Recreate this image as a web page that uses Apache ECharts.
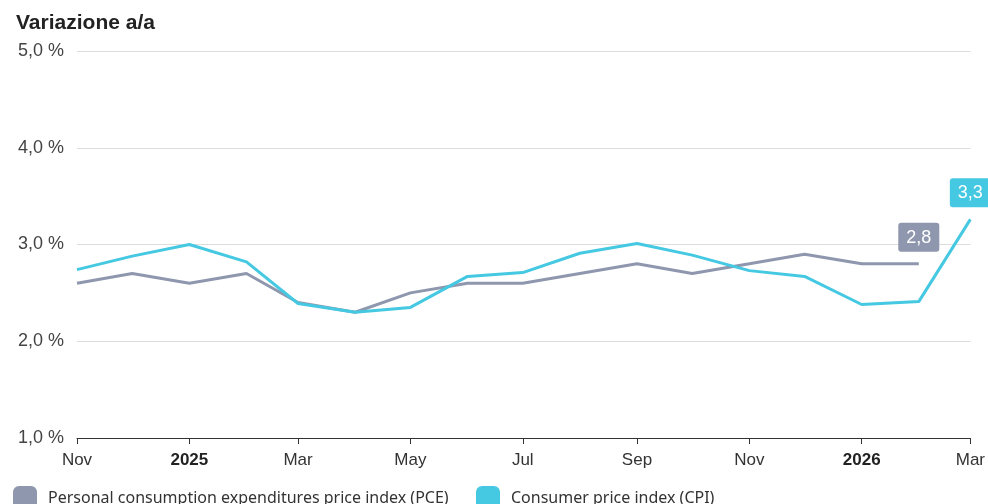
<!DOCTYPE html>
<html>
<head>
<meta charset="utf-8">
<script src="https://cdn.jsdelivr.net/npm/echarts@6/dist/echarts.min.js"></script>
<style>
html,body{margin:0;padding:0;background:#fff;}
#chart{width:988px;height:504px;}
</style>
</head>
<body>
<div id="chart"></div>
<script>
// Months: [year, monthIndex(0-based)]
const months = [
  [2024,10],[2024,11],[2025,0],[2025,1],[2025,2],[2025,3],[2025,4],[2025,5],
  [2025,6],[2025,7],[2025,8],[2025,9],[2025,10],[2025,11],[2026,0],[2026,1],[2026,2]
];
const pceValues = [2.6,2.7,2.6,2.7,2.4,2.3,2.5,2.6,2.6,2.7,2.8,2.7,2.8,2.9,2.8,2.8];
const cpiValues = [2.74,2.88,3.0,2.82,2.39,2.3,2.35,2.67,2.71,2.91,3.01,2.89,2.73,2.67,2.38,2.41,3.26];
const tickMonths = [[2024,10],[2025,0],[2025,2],[2025,4],[2025,6],[2025,8],[2025,10],[2026,0],[2026,2]];
const monthNames = ['Jan','Feb','Mar','Apr','May','Jun','Jul','Aug','Sep','Oct','Nov','Dec'];
const yTicks = [1,2,3,4,5];
const pceName = 'Personal consumption expenditures price index (PCE)';
const cpiName = 'Consumer price index (CPI)';
const pceColor = '#8e97ad';
const cpiColor = '#45c8e1';

const ts = m => Date.UTC(m[0], m[1], 1);
const fmt = v => v.toFixed(1).replace('.', ',');
const sans = 'Liberation Sans, Arial, sans-serif';

function buildData(values, color) {
  return values.map((v, i) => {
    const item = { value: [ts(months[i]), v] };
    if (i === values.length - 1) {
      item.label = {
        show: true, position: 'top', distance: 12,
        formatter: p => fmt(p.value[1]),
        backgroundColor: color, color: '#fff',
        fontFamily: sans, fontSize: 18, lineHeight: 18,
        padding: [6, 8, 5, 8], borderRadius: 3
      };
    }
    return item;
  });
}

const chart = echarts.init(document.getElementById('chart'), null, {renderer: 'canvas'});
chart.setOption({
  animation: false,
  title: {
    text: 'Variazione a/a', left: 16, top: 13, padding: 0,
    textStyle: { fontFamily: sans, fontSize: 21, fontWeight: 'bold', color: '#222' }
  },
  grid: { left: 77, right: 17, top: 51, bottom: 66, containLabel: false },
  legend: [
    { data: [pceName], left: 13, top: 486, padding: 0, icon: 'roundRect', itemWidth: 24, itemHeight: 24, itemGap: 11,
      textStyle: { fontFamily: 'Noto Sans, sans-serif', fontSize: 16, color: '#333', padding: [2,0,0,6] } },
    { data: [cpiName], left: 476, top: 486, padding: 0, icon: 'roundRect', itemWidth: 24, itemHeight: 24,
      textStyle: { fontFamily: 'Noto Sans, sans-serif', fontSize: 16, color: '#333', padding: [2,0,0,6] } }
  ],
  xAxis: {
    type: 'value',
    min: ts(months[0]), max: ts(months[months.length - 1]),
    splitLine: { show: false },
    axisLine: { show: true, lineStyle: { color: '#333', width: 1 } },
    axisTick: { show: true, length: 6, lineStyle: { color: '#333' }, customValues: tickMonths.map(ts) },
    axisLabel: {
      customValues: tickMonths.map(ts), margin: 14,
      fontFamily: sans, fontSize: 17, color: '#333',
      formatter: v => {
        const d = new Date(v);
        if (d.getUTCMonth() === 0) return '{b|' + d.getUTCFullYear() + '}';
        return monthNames[d.getUTCMonth()];
      },
      rich: { b: { fontWeight: 'bold', fontFamily: sans, fontSize: 17, color: '#222' } }
    }
  },
  yAxis: {
    type: 'value', min: yTicks[0], max: yTicks[yTicks.length - 1], interval: 1,
    axisLine: { show: false }, axisTick: { show: false },
    splitLine: { lineStyle: { color: '#dcdcdc', width: 1 } },
    axisLabel: {
      align: 'left', margin: 59, color: '#444',
      fontFamily: sans, fontSize: 18,
      formatter: v => fmt(v) + ' %'
    }
  },
  series: [
    { name: pceName, type: 'line', data: buildData(pceValues, pceColor),
      color: pceColor, showSymbol: true, symbol: 'circle', symbolSize: 0.1,
      lineStyle: { width: 3, color: pceColor }, itemStyle: { color: pceColor },
      label: { show: false }, emphasis: { disabled: true }, z: 2 },
    { name: cpiName, type: 'line', data: buildData(cpiValues, cpiColor),
      color: cpiColor, showSymbol: true, symbol: 'circle', symbolSize: 0.1,
      lineStyle: { width: 3, color: cpiColor }, itemStyle: { color: cpiColor },
      label: { show: false }, emphasis: { disabled: true }, z: 3 }
  ]
});
</script>
</body>
</html>
